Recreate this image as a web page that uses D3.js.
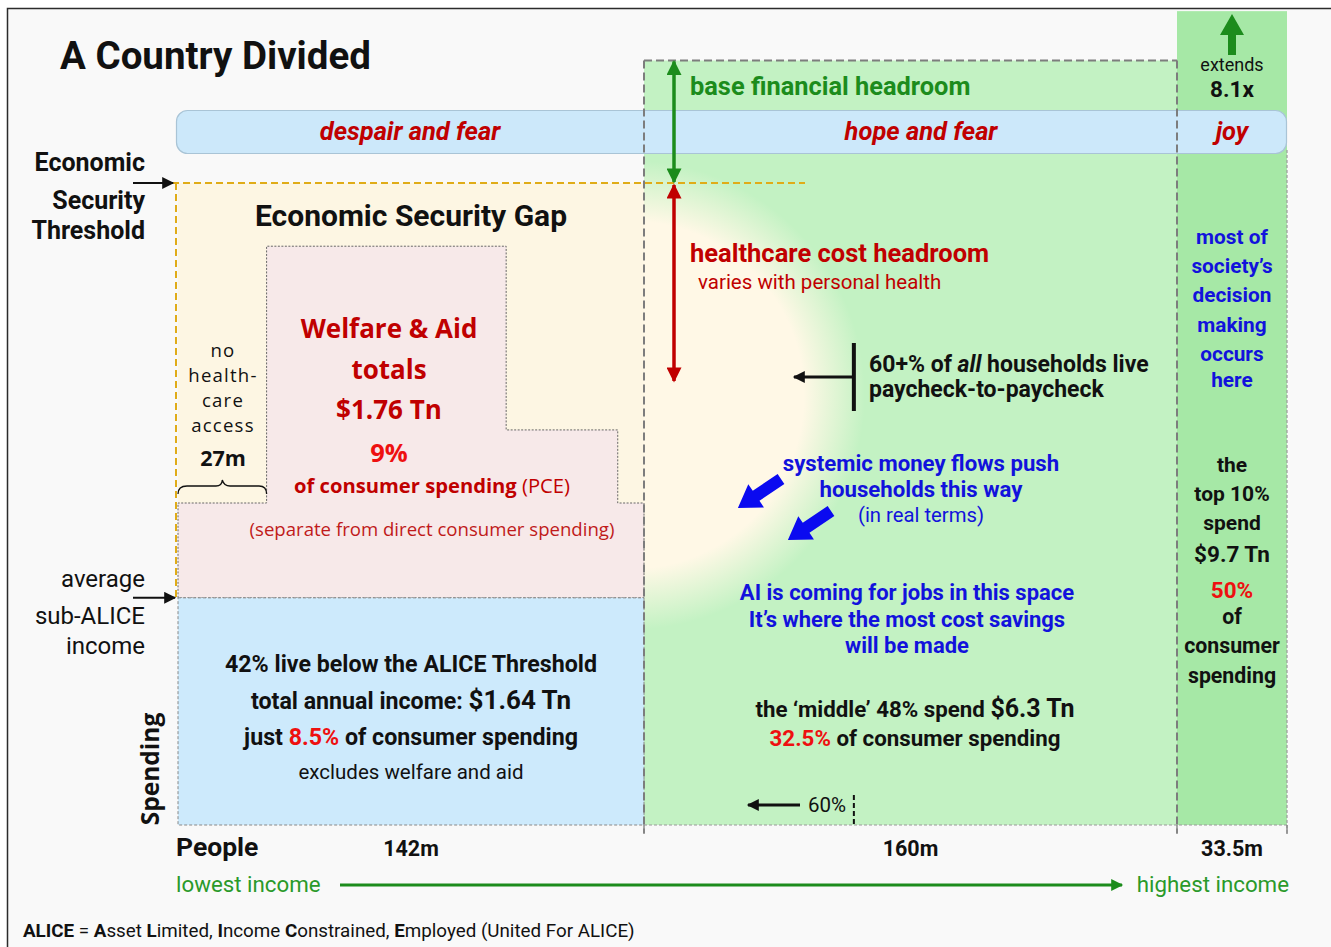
<!DOCTYPE html>
<html>
<head>
<meta charset="utf-8">
<script src="https://cdn.jsdelivr.net/npm/d3@7"></script>
<style>
  body { margin: 0; background: #fff; }
  text { white-space: pre; }
</style>
</head>
<body>
<script>
// ---- data ----
var groupNames   = ["below ALICE", "middle", "top 10%"];
var groupPeople  = [142, 160, 33.5];           // millions of people
var groupLabels  = ["142m", "160m", "33.5m"];
var moods        = ["despair and fear", "hope and fear", "joy"];
// spending per person, $k (index)
var subAliceIncome   = 11.5;
var securityLine     = 32.5;
var middleTop        = 38.7;
var topColumnTop     = 41.2;                    // runs off the frame
// welfare & aid stepped block (people breakpoints, level of each step)
var welfareBreaks = [0, 27, 100, 134, 142];
var welfareLevels = [16.3, 29.3, 20.0, 16.3];
var noCareMillions = 27;
var paycheckMark = 205;                          // "60%" marker, millions of people

var W = 1331, H = 947;
var SANS = "Roboto, 'Liberation Sans', sans-serif";
var WIDE = "'Open Sans', 'DejaVu Sans', sans-serif";
var RED = "#c00000", BRIGHT = "#ee1010", BLUE = "#1212dc", GREEN = "#1c8c1c";

var svg = d3.select("body").append("svg").attr("width", W).attr("height", H);

var cum = [0];
groupPeople.forEach(function(p, i) { cum.push(cum[i] + p); });
// the picture's people axis is drawn piecewise, one segment per group
var x = d3.scaleLinear().domain(cum).range([178, 644, 1177, 1287]);
var y = d3.scaleLinear().domain([0, securityLine]).range([825, 183]);

var defs = svg.append("defs");
var glow = defs.append("radialGradient").attr("id", "glow")
  .attr("gradientUnits", "userSpaceOnUse").attr("cx", 630).attr("cy", 395).attr("r", 235);
glow.append("stop").attr("offset", 0).attr("stop-color", "#fff8e6").attr("stop-opacity", 1);
glow.append("stop").attr("offset", 0.74).attr("stop-color", "#fff8e6").attr("stop-opacity", 1);
glow.append("stop").attr("offset", 1).attr("stop-color", "#fff8e6").attr("stop-opacity", 0);
defs.append("clipPath").attr("id", "midclip").append("rect")
  .attr("x", x(cum[1])).attr("y", y(middleTop))
  .attr("width", x(cum[2]) - x(cum[1])).attr("height", y(0) - y(middleTop));

function marker(id, color, w, h) {
  defs.append("marker").attr("id", id).attr("viewBox", "0 0 10 10")
    .attr("refX", 9).attr("refY", 5).attr("markerUnits", "userSpaceOnUse")
    .attr("markerWidth", w).attr("markerHeight", h).attr("orient", "auto-start-reverse")
    .append("path").attr("d", "M0,0L10,5L0,10z").attr("fill", color);
}
marker("mGreen", GREEN, 20, 15);
marker("mRed", "#c00000", 20, 15);
marker("mBlack", "#111", 16, 12);
marker("mAxis", GREEN, 16, 12);

// frame
svg.append("rect").attr("x", 7.5).attr("y", 8.5).attr("width", 1340).attr("height", 960)
  .attr("fill", "#f9f9f9").attr("stroke", "#2b2b2b").attr("stroke-width", 1.5);

// top 10% column
svg.append("rect").attr("x", x(cum[2])).attr("y", y(topColumnTop))
  .attr("width", x(cum[3]) - x(cum[2])).attr("height", y(0) - y(topColumnTop))
  .attr("fill", "#a6e8a6");

// middle group
svg.append("rect").attr("x", x(cum[1])).attr("y", y(middleTop))
  .attr("width", x(cum[2]) - x(cum[1])).attr("height", y(0) - y(middleTop))
  .attr("fill", "#c3f2c3");
svg.append("rect").attr("clip-path", "url(#midclip)").attr("x", 300).attr("y", 100)
  .attr("width", 700).attr("height", 700).attr("fill", "url(#glow)");

// economic security gap
svg.append("rect").attr("x", x(0)).attr("y", y(securityLine))
  .attr("width", x(cum[1]) - x(0)).attr("height", y(subAliceIncome) - y(securityLine))
  .attr("fill", "#fdf6e3");

// welfare & aid stepped block
var wpts = [[welfareBreaks[0], subAliceIncome]];
welfareLevels.forEach(function(v, i) {
  wpts.push([welfareBreaks[i], v]);
  wpts.push([welfareBreaks[i + 1], v]);
});
wpts.push([welfareBreaks[welfareBreaks.length - 1], subAliceIncome]);
svg.append("path")
  .attr("d", d3.line().x(function(d) { return x(d[0]); }).y(function(d) { return y(d[1]); })(wpts) + "Z")
  .attr("fill", "#f7e9e9").attr("stroke", "#666").attr("stroke-width", 1)
  .attr("stroke-dasharray", "2,1.5");

// below ALICE block
svg.append("rect").attr("x", x(0)).attr("y", y(subAliceIncome))
  .attr("width", x(cum[1]) - x(0)).attr("height", y(0) - y(subAliceIncome))
  .attr("fill", "#cdeafc").attr("stroke", "#888").attr("stroke-width", 1)
  .attr("stroke-dasharray", "3,2");

// mood band
svg.append("rect").attr("x", 176.5).attr("y", 110.5).attr("width", 1110).attr("height", 43)
  .attr("rx", 11).attr("fill", "#cce8fa").attr("stroke", "#a9c4d6").attr("stroke-width", 1.2);
var moodX = [410, 921, 1232];
moods.forEach(function(m, i) {
  svg.append("text").attr("x", moodX[i]).attr("y", 140).attr("text-anchor", "middle")
    .attr("font-family", SANS).attr("font-size", 25.5).attr("font-weight", "bold")
    .attr("font-style", "italic").attr("fill", RED).text(m);
});

// dashed borders
var dash = function(x1, y1, x2, y2, c, w, da) {
  svg.append("line").attr("x1", x1).attr("y1", y1).attr("x2", x2).attr("y2", y2)
    .attr("stroke", c).attr("stroke-width", w).attr("stroke-dasharray", da);
};
dash(x(cum[1]), y(middleTop), x(cum[2]), y(middleTop), "#7d7d7d", 2, "8,4");
dash(x(cum[1]), y(middleTop), x(cum[1]), y(0) + 8, "#7d7d7d", 2, "8,4");
dash(x(cum[2]), y(middleTop), x(cum[2]), y(0) + 8, "#7d7d7d", 2, "8,4");
dash(x(cum[3]), 150, x(cum[3]), y(0) + 8, "#9a9a9a", 1.2, "3,2");
dash(x(cum[1]), y(0), x(cum[3]), y(0), "#9a9a9a", 1.2, "3,2");
// threshold lines
dash(172, y(securityLine), 805, y(securityLine), "#e0ac18", 2.2, "7,4");
dash(176, y(securityLine), 176, y(subAliceIncome), "#e0ac18", 2, "7,4");

function lines(xp, ys, arr, o) {
  arr.forEach(function(s, i) {
    var t = svg.append("text").attr("x", xp).attr("y", ys[i])
      .attr("text-anchor", o.anchor || "middle").attr("font-family", o.font || SANS)
      .attr("font-size", o.size).attr("font-weight", o.weight || "normal")
      .attr("fill", o.color || "#111");
    if (o.ls) t.attr("letter-spacing", o.ls);
    (Array.isArray(s) ? s : [s]).forEach(function(p) {
      if (typeof p === "string") t.append("tspan").text(p);
      else {
        var sp = t.append("tspan").text(p.t);
        if (p.fill) sp.attr("fill", p.fill);
        if (p.w) sp.attr("font-weight", p.w);
        if (p.size) sp.attr("font-size", p.size);
        if (p.style) sp.attr("font-style", p.style);
      }
    });
  });
}

// title and left labels
svg.append("text").attr("x", 60).attr("y", 69).attr("font-family", SANS)
  .attr("font-size", 38.5).attr("font-weight", "bold").attr("fill", "#111").text("A Country Divided");

lines(145, [171, 209, 239], ["Economic", "Security", "Threshold"],
  { anchor: "end", size: 25, weight: "bold" });
lines(145, [587, 624, 654], ["average", "sub-ALICE", "income"],
  { anchor: "end", size: 24 });
svg.append("line").attr("x1", 133).attr("y1", y(securityLine)).attr("x2", 173).attr("y2", y(securityLine))
  .attr("stroke", "#111").attr("stroke-width", 2).attr("marker-end", "url(#mBlack)");
svg.append("line").attr("x1", 133).attr("y1", y(subAliceIncome)).attr("x2", 175).attr("y2", y(subAliceIncome))
  .attr("stroke", "#111").attr("stroke-width", 2).attr("marker-end", "url(#mBlack)");
svg.append("text").attr("transform", "translate(159,769) rotate(-90)").attr("text-anchor", "middle")
  .attr("font-family", WIDE).attr("font-size", 24.5).attr("font-weight", "bold").attr("fill", "#111")
  .text("Spending");

// people axis
[cum[1], cum[2], cum[3]].forEach(function(v) {
  svg.append("line").attr("x1", x(v)).attr("x2", x(v)).attr("y1", y(0)).attr("y2", y(0) + 9)
    .attr("stroke", "#8a8a8a").attr("stroke-width", 1.5);
});
svg.append("text").attr("x", 176).attr("y", 856).attr("font-family", SANS).attr("font-size", 26.5)
  .attr("font-weight", "bold").attr("fill", "#111").text("People");
groupLabels.forEach(function(l, i) {
  svg.append("text").attr("x", (x(cum[i]) + x(cum[i + 1])) / 2).attr("y", 856)
    .attr("text-anchor", "middle").attr("font-family", SANS).attr("font-size", 21.5)
    .attr("font-weight", "bold").attr("fill", "#111").text(l);
});
svg.append("text").attr("x", 176).attr("y", 892).attr("font-family", SANS).attr("font-size", 22.3)
  .attr("fill", "#2a9a2a").text("lowest income");
svg.append("text").attr("x", 1289).attr("y", 892).attr("text-anchor", "end").attr("font-family", SANS)
  .attr("font-size", 22.3).attr("fill", "#2a9a2a").text("highest income");
svg.append("line").attr("x1", 340).attr("x2", 1122).attr("y1", 885).attr("y2", 885)
  .attr("stroke", GREEN).attr("stroke-width", 3).attr("marker-end", "url(#mAxis)");

lines(23, [937], [[{ t: "ALICE", w: "bold" }, " = ", { t: "A", w: "bold" }, "sset ", { t: "L", w: "bold" },
  "imited, ", { t: "I", w: "bold" }, "ncome ", { t: "C", w: "bold" }, "onstrained, ", { t: "E", w: "bold" },
  "mployed (United For ALICE)"]], { anchor: "start", size: 18.8 });

// gap and welfare texts
lines(411, [226], ["Economic Security Gap"], { size: 30, weight: "bold" });
lines(223, [357, 382, 407, 432], ["no", "health-", "care", "access"], { size: 18.6, font: WIDE, ls: 1.2 });
lines(223, [466], ["27m"], { size: 21.5, font: WIDE, weight: "bold" });
svg.append("path")
  .attr("d", "M" + x(0) + ",494 Q" + x(0) + ",486 187,486 L216,486 Q222,486 " + x(noCareMillions / 2) +
    ",480 Q224,486 230,486 L259,486 Q" + x(noCareMillions) + ",486 " + x(noCareMillions) + ",494")
  .attr("fill", "none").attr("stroke", "#111").attr("stroke-width", 1.3);

lines(389, [338, 379, 419], ["Welfare & Aid", "totals", "$1.76 Tn"],
  { size: 26, font: WIDE, weight: "bold", color: RED });
lines(389, [462], ["9%"], { size: 25.5, font: WIDE, weight: "bold", color: BRIGHT });
lines(432, [493], [["of consumer spending", { t: " (PCE)", w: "normal" }]],
  { size: 20.2, font: WIDE, weight: "bold", color: RED });
lines(432, [536], ["(separate from direct consumer spending)"], { size: 18.6, font: WIDE, color: "#c01a1a" });

// below ALICE texts
lines(411, [672, 709, 745], ["42% live below the ALICE Threshold",
  ["total annual income: ", { t: "$1.64 Tn", size: 26 }],
  ["just ", { t: "8.5%", fill: BRIGHT }, " of consumer spending"]], { size: 23.2, weight: "bold" });
lines(411, [779], ["excludes welfare and aid"], { size: 20.5 });

// headroom arrows
var hx = 674;
svg.append("line").attr("x1", hx).attr("x2", hx).attr("y1", y(middleTop) + 1).attr("y2", y(securityLine) - 1)
  .attr("stroke", GREEN).attr("stroke-width", 3.5)
  .attr("marker-start", "url(#mGreen)").attr("marker-end", "url(#mGreen)");
svg.append("line").attr("x1", hx).attr("x2", hx).attr("y1", y(securityLine) + 2).attr("y2", 381)
  .attr("stroke", "#c00000").attr("stroke-width", 3.5)
  .attr("marker-start", "url(#mRed)").attr("marker-end", "url(#mRed)");
lines(690, [95], ["base financial headroom"], { anchor: "start", size: 25.4, weight: "bold", color: GREEN });
lines(690, [262], ["healthcare cost headroom"], { anchor: "start", size: 25.5, weight: "bold", color: RED });
lines(698, [289], ["varies with personal health"], { anchor: "start", size: 20.5, color: RED });

// paycheck marker
svg.append("line").attr("x1", x(paycheckMark)).attr("x2", x(paycheckMark)).attr("y1", 343).attr("y2", 411)
  .attr("stroke", "#111").attr("stroke-width", 4);
svg.append("line").attr("x1", x(paycheckMark)).attr("x2", 794).attr("y1", 377).attr("y2", 377)
  .attr("stroke", "#111").attr("stroke-width", 3).attr("marker-end", "url(#mBlack)");
lines(869, [372, 397], [["60+% of ", { t: "all", style: "italic" }, " households live"], "paycheck-to-paycheck"],
  { anchor: "start", size: 23, weight: "bold" });

// systemic flow
lines(921, [471, 497], ["systemic money flows push", "households this way"], { size: 22.2, weight: "bold", color: BLUE });
lines(921, [522], ["(in real terms)"], { size: 20.3, color: BLUE });
[[781, 479], [831, 511]].forEach(function(p) {
  svg.append("path").attr("d", "M0,-6L30,-6L30,-14L52,0L30,14L30,6L0,6Z")
    .attr("transform", "translate(" + p[0] + "," + p[1] + ") rotate(146)").attr("fill", "#0a0af0");
});

lines(907, [600, 627, 653], ["AI is coming for jobs in this space", "It\u2019s where the most cost savings", "will be made"],
  { size: 22, weight: "bold", color: BLUE });
lines(915, [717, 746], [["the \u2018middle\u2019 48% spend ", { t: "$6.3 Tn", size: 25 }],
  [{ t: "32.5%", fill: BRIGHT }, " of consumer spending"]], { size: 22.3, weight: "bold" });

svg.append("line").attr("x1", x(paycheckMark)).attr("x2", x(paycheckMark)).attr("y1", 795).attr("y2", y(0))
  .attr("stroke", "#111").attr("stroke-width", 2).attr("stroke-dasharray", "5,3");
svg.append("line").attr("x1", 800).attr("x2", 748).attr("y1", 805).attr("y2", 805)
  .attr("stroke", "#111").attr("stroke-width", 3).attr("marker-end", "url(#mBlack)");
lines(808, [812], ["60%"], { anchor: "start", size: 20.5 });

// top 10% column texts
var rc = (x(cum[2]) + x(cum[3])) / 2;
svg.append("path").attr("d", "M" + (rc - 4) + ",55L" + (rc - 4) + ",35L" + (rc - 12) + ",35L" + rc + ",14L" +
  (rc + 12) + ",35L" + (rc + 4) + ",35L" + (rc + 4) + ",55Z").attr("fill", GREEN);
lines(rc, [71], ["extends"], { size: 18 });
lines(rc, [97], ["8.1x"], { size: 22.5, weight: "bold" });
lines(rc, [244, 273, 302, 332, 361, 387], ["most of", "society\u2019s", "decision", "making", "occurs", "here"],
  { size: 20.8, weight: "bold", color: BLUE });
lines(rc, [472, 501, 530], ["the", "top 10%", "spend"], { size: 21, weight: "bold" });
lines(rc, [562], ["$9.7 Tn"], { size: 22.5, weight: "bold" });
lines(rc, [598], ["50%"], { size: 22.5, weight: "bold", color: BRIGHT });
lines(rc, [624, 653, 683], ["of", "consumer", "spending"], { size: 21.3, weight: "bold" });
</script>
</body>
</html>
